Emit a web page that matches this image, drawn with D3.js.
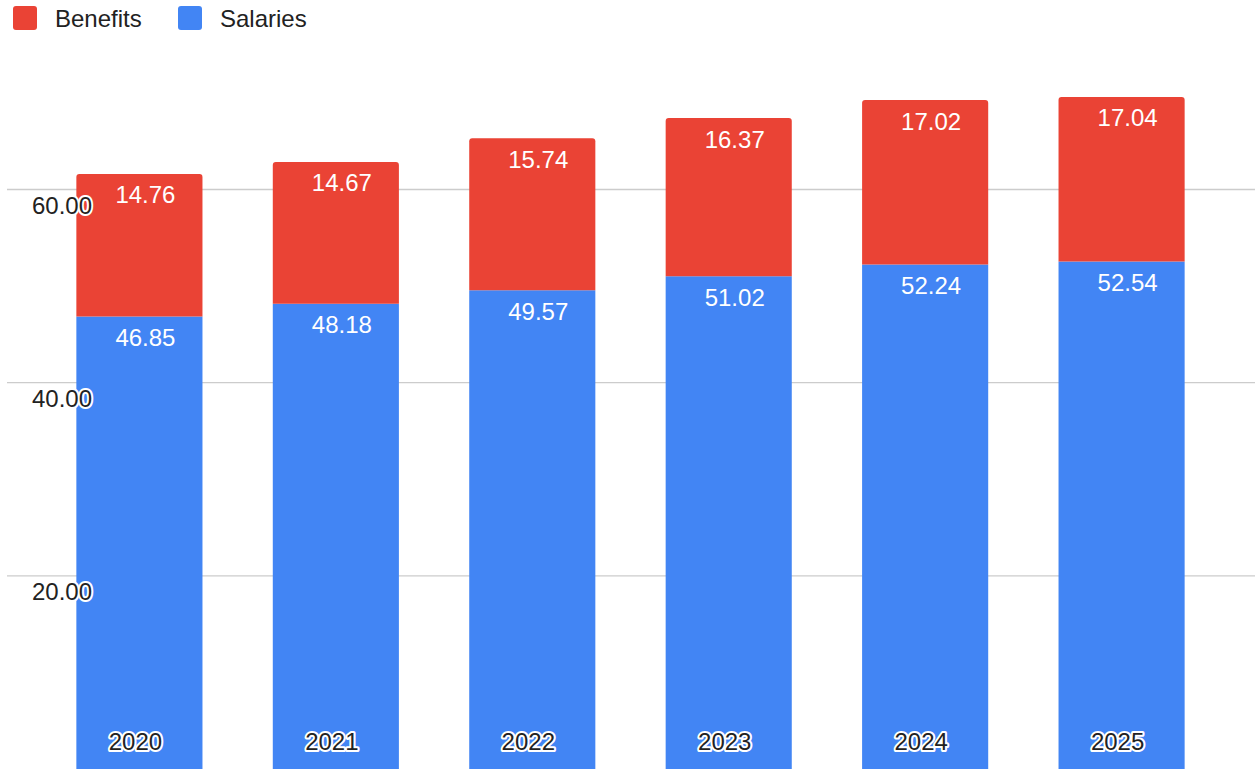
<!DOCTYPE html>
<html><head><meta charset="utf-8">
<script src="https://cdn.jsdelivr.net/npm/d3@7"></script>
<style>body{margin:0;background:#fff;}svg{display:block;font-family:"Liberation Sans",Arial,sans-serif;}</style>
</head><body><svg id="c" width="1255" height="769"></svg>
<script>
const years = ["2020","2021","2022","2023","2024","2025"];
const benefits = [14.76,14.67,15.74,16.37,17.02,17.04];
const salaries = [46.85,48.18,49.57,51.02,52.24,52.54];
const yTicks = [20,40,60];
const seriesNames = ["Benefits","Salaries"];
const colors = {Benefits:"#EA4335", Salaries:"#4285F4"};

const svg = d3.select("#c");
const x = d3.scaleBand().domain(years).range([41,1220]).paddingInner(0.358).paddingOuter(0.18);
const y = d3.scaleLinear().domain([0,60]).range([769,189.5]);

// gridlines
svg.append("g").selectAll("line").data(yTicks).join("line")
  .attr("x1",7).attr("x2",1255).attr("y1",d=>y(d)).attr("y2",d=>y(d))
  .attr("stroke","#cccccc").attr("stroke-width",1.3);

const rows = years.map((yr,i)=>({year:yr, Salaries:salaries[i], Benefits:benefits[i]}));
const stack = d3.stack().keys(["Salaries","Benefits"])(rows);

function topRounded(x0,y0,w,h,r){
  return `M${x0},${y0+h}V${y0+r}Q${x0},${y0} ${x0+r},${y0}H${x0+w-r}Q${x0+w},${y0} ${x0+w},${y0+r}V${y0+h}Z`;
}
const gBars = svg.append("g");
stack.forEach(s=>{
  gBars.selectAll(null).data(s).join("path")
    .attr("fill",colors[s.key])
    .attr("d",d=>{
      const x0=x(d.data.year), w=x.bandwidth(), yt=y(d[1]), h=y(d[0])-y(d[1]);
      return s.key==="Benefits"? topRounded(x0,yt,w,h,3) : `M${x0},${yt}h${w}v${h}h${-w}Z`;
    });
  gBars.selectAll(null).data(s).join("text")
    .attr("x",d=>x(d.data.year)+x.bandwidth()/2+6)
    .attr("y",d=>y(d[1])+29.5)
    .attr("text-anchor","middle").attr("fill","#fff").attr("font-size",24)
    .text(d=>(d[1]-d[0]).toFixed(2));
});

// y axis labels with halo
const yAxis = d3.axisLeft(y).tickValues(yTicks).tickFormat(d=>d3.format(".2f")(d)).tickSize(0);
const ga = svg.append("g").attr("transform","translate(92,0)").call(yAxis);
ga.select(".domain").remove();
ga.selectAll("text").attr("dy",null).attr("dx",null).attr("x",0).attr("y",24)
  .attr("font-size",24).attr("font-family","Liberation Sans, Arial, sans-serif")
  .attr("fill","#222").attr("stroke","#fff").attr("stroke-width",4).attr("paint-order","stroke")
  .attr("stroke-linejoin","round").attr("text-anchor","end");

// x axis labels inside bars
const xAxis = d3.axisBottom(x).tickSize(0);
const gx = svg.append("g").attr("transform","translate(-4,749.5)").call(xAxis);
gx.select(".domain").remove();
gx.selectAll("text").attr("y",0).attr("dy",null)
  .attr("font-size",24).attr("font-family","Liberation Sans, Arial, sans-serif")
  .attr("fill","#222").attr("stroke","#fff").attr("stroke-width",4).attr("paint-order","stroke")
  .attr("stroke-linejoin","round");

// legend
const leg = svg.append("g");
const legX = [13,178];
seriesNames.forEach((n,i)=>{
  leg.append("rect").attr("x",legX[i]).attr("y",6).attr("width",24).attr("height",24).attr("rx",3).attr("fill",colors[n]);
  leg.append("text").attr("x",legX[i]+42).attr("y",26.5)
    .attr("font-size",24).attr("fill","#222").text(n);
});
</script></body></html>
